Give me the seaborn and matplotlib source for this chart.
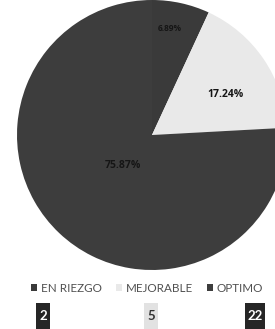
import matplotlib
matplotlib.use("Agg")
import matplotlib.pyplot as plt
from matplotlib.patches import Rectangle
import seaborn as sns
import numpy as np

# Datos
categorias = ["EN RIEZGO", "MEJORABLE", "OPTIMO"]
conteos = [2, 5, 22]
etiquetas_pct = ["6.89%", "17.24%", "75.87%"]

colores = ["#3a3a3a", "#e9e9e9", "#3d3d3d"]

sns.set_theme(style="white")
plt.rcParams["font.family"] = ["Lato", "DejaVu Sans"]

W, H = 275, 329
fig = plt.figure(figsize=(W / 100, H / 100), dpi=100)
fig.patch.set_facecolor("white")
ax = fig.add_axes([0, 0, 1, 1])

cx, cy, r = 152, H - 135, 135
wedges, _ = ax.pie(conteos, colors=colores, startangle=90, counterclock=False,
                   center=(cx, cy), radius=r,
                   wedgeprops=dict(linewidth=0))

# etiquetas de porcentaje
dist = [0.80, 0.62, 0.31]
giro = [3, -5, 0]
tam = [6, 7.5, 7.5]
for w, lab, d, g, s in zip(wedges, etiquetas_pct, dist, giro, tam):
    ang = np.deg2rad((w.theta1 + w.theta2) / 2 + g)
    ax.text(cx + d * r * np.cos(ang), cy + d * r * np.sin(ang), lab,
            ha="center", va="center", fontsize=s, fontweight="bold",
            color="#151515", family=["Open Sans", "DejaVu Sans"])

ax.set_xlim(0, W)
ax.set_ylim(0, H)
ax.set_aspect("equal")
ax.axis("off")

# leyenda
leg = fig.legend(wedges, categorias, loc="center", bbox_to_anchor=(0.535, 1 - 288 / H),
                 ncol=3, frameon=False, fontsize=8.4, handlelength=0.55, handleheight=0.55,
                 handletextpad=0.3, columnspacing=1.2, borderaxespad=0)
for t in leg.get_texts():
    t.set_color("#505050")

# cajas con conteos
xs = [43, 151, 255]
for x, n, c in zip(xs, conteos, colores):
    oscuro = c != colores[1]
    ancho = 14 + 6 * (len(str(n)) - 1)
    ax.add_patch(Rectangle((x - ancho / 2, 0), ancho, H - 303,
                           fc="#262626" if oscuro else "#e2e2e2", ec="none"))
    ax.text(x, H - 316, str(n), ha="center", va="center", fontsize=9.5,
            fontweight="bold", color="white" if oscuro else "#333333")

fig.savefig("out.png", dpi=100, facecolor="white")
